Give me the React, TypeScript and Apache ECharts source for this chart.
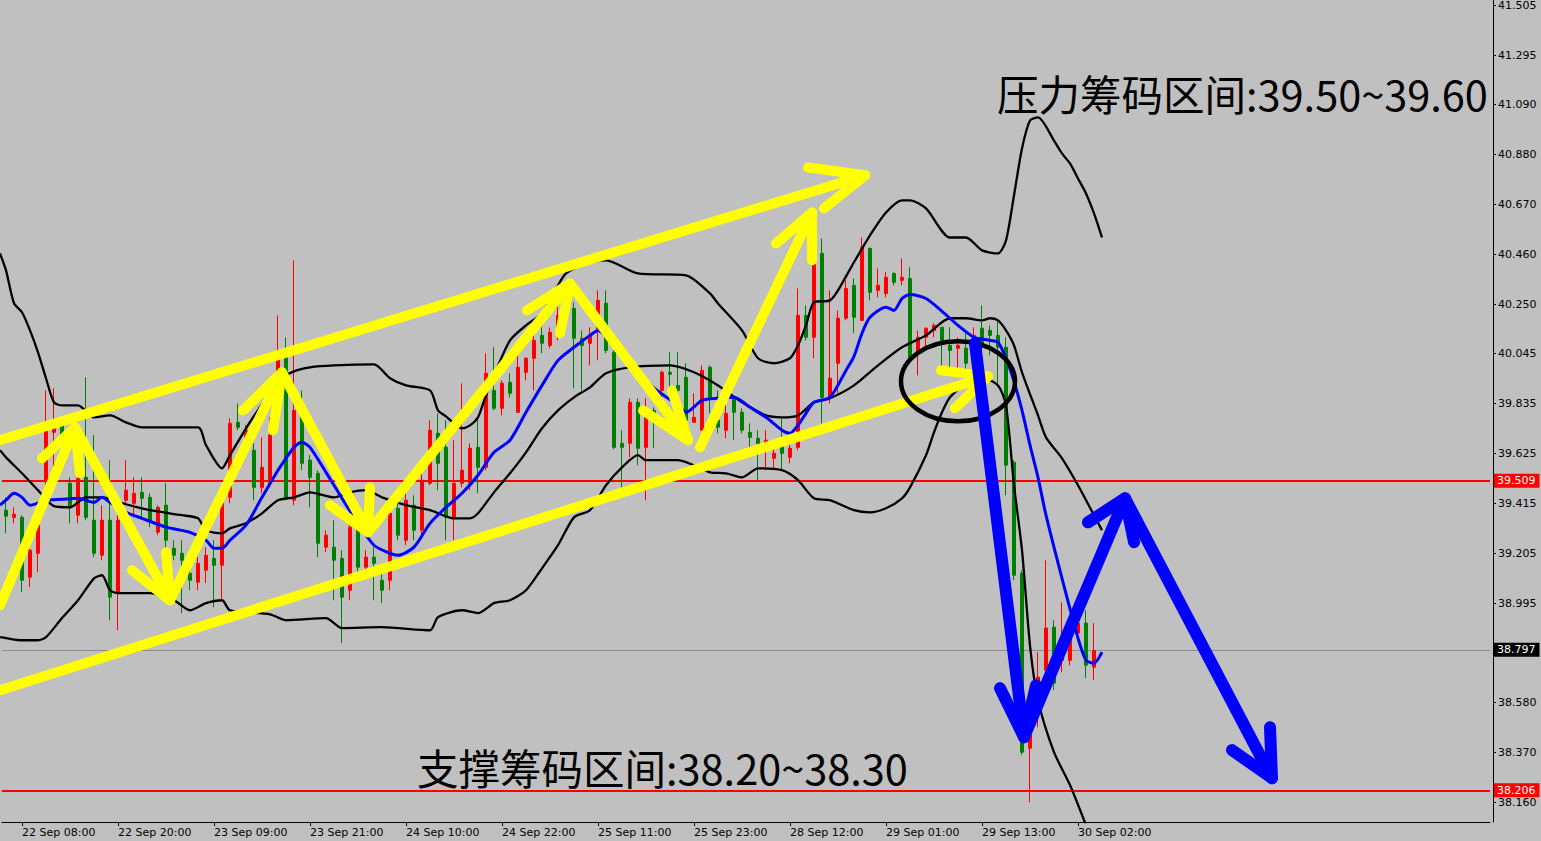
import React, { useEffect, useRef } from "react";
import * as echarts from "echarts";

// ---------- candles (bar index 0..136), prices ----------
const opens = [
  39.386, 39.356, 39.356, 39.105, 39.205, 39.512, 39.713, 39.742, 39.499, 39.365,
  39.524, 39.344, 39.197, 39.344, 39.038, 39.428, 39.415, 39.461, 39.440, 39.294,
  39.407, 39.226, 39.205, 39.121, 39.084, 39.134, 39.184, 39.155, 39.440, 39.755,
  39.638, 39.638, 39.482, 39.499, 39.847, 40.028, 39.428, 39.805, 39.596, 39.541,
  39.231, 39.231, 39.184, 39.050, 39.310, 39.147, 39.189, 39.092, 39.092, 39.394,
  39.260, 39.407, 39.302, 39.499, 39.709, 39.650, 39.356, 39.499, 39.499, 39.650,
  39.566, 39.889, 39.814, 39.923, 39.797, 39.965, 40.024, 40.120, 40.078, 40.120,
  40.192, 40.233, 40.108, 40.087, 40.141, 40.255, 40.049, 39.667, 39.667, 39.839,
  39.650, 39.805, 39.889, 39.965, 39.910, 39.944, 39.755, 39.722, 39.986, 39.764,
  39.722, 39.860, 39.797, 39.713, 39.688, 39.650, 39.604, 39.667, 39.608, 39.650,
  40.204, 40.112, 40.464, 39.860, 40.003, 40.192, 40.330, 40.183, 40.485, 40.309,
  40.296, 40.380, 40.351, 40.359, 40.049, 40.112, 40.141, 40.154, 40.078, 40.066,
  40.066, 40.087, 40.150, 40.141, 40.120, 40.070, 39.587, 39.121, 38.387, 38.660,
  38.714, 38.895, 38.756, 38.756, 38.870, 38.912, 38.727,
];
const closes = [
  39.361, 39.369, 39.092, 39.218, 39.323, 39.722, 39.742, 39.692, 39.398, 39.520,
  39.356, 39.205, 39.344, 39.021, 39.344, 39.470, 39.457, 39.436, 39.344, 39.398,
  39.260, 39.197, 39.176, 39.092, 39.163, 39.197, 39.155, 39.415, 39.751, 39.734,
  39.722, 39.482, 39.566, 39.701, 40.024, 39.440, 39.805, 39.583, 39.524, 39.247,
  39.281, 39.176, 39.021, 39.315, 39.147, 39.189, 39.163, 39.050, 39.373, 39.281,
  39.428, 39.302, 39.512, 39.722, 39.583, 39.356, 39.499, 39.554, 39.646, 39.566,
  39.961, 39.814, 39.919, 39.877, 39.986, 40.024, 40.099, 40.087, 40.133, 40.204,
  40.267, 40.108, 40.078, 40.120, 40.267, 40.057, 39.650, 39.650, 39.839, 39.646,
  39.797, 39.784, 39.965, 39.957, 39.889, 39.764, 39.776, 39.973, 39.860, 39.734,
  39.793, 39.797, 39.722, 39.692, 39.667, 39.680, 39.625, 39.625, 39.646, 40.204,
  40.112, 40.456, 39.860, 39.940, 40.192, 40.317, 40.196, 40.489, 40.301, 40.330,
  40.364, 40.343, 40.364, 40.015, 40.112, 40.150, 40.162, 40.099, 40.057, 40.078,
  40.003, 40.120, 40.078, 40.120, 40.070, 39.575, 39.113, 38.370, 38.442, 38.685,
  38.891, 38.660, 38.840, 38.882, 38.912, 38.735, 38.797,
];
const lows = [
  39.289, 39.331, 39.042, 39.063, 39.126, 39.491, 39.512, 39.659, 39.331, 39.331,
  39.344, 39.189, 39.176, 38.924, 38.882, 39.407, 39.356, 39.356, 39.315, 39.281,
  39.176, 39.176, 38.954, 39.050, 39.050, 39.080, 38.979, 39.008, 39.415, 39.722,
  39.617, 39.428, 39.457, 39.482, 39.826, 39.428, 39.407, 39.554, 39.398, 39.189,
  39.210, 39.008, 38.828, 39.008, 39.113, 39.113, 39.008, 38.996, 39.050, 39.260,
  39.239, 39.260, 39.281, 39.491, 39.470, 39.260, 39.260, 39.482, 39.470, 39.457,
  39.554, 39.805, 39.784, 39.860, 39.793, 39.931, 39.889, 40.045, 40.066, 40.099,
  40.175, 39.898, 39.889, 39.994, 40.015, 40.045, 39.642, 39.482, 39.608, 39.575,
  39.428, 39.646, 39.793, 39.889, 39.793, 39.722, 39.755, 39.722, 39.793, 39.709,
  39.688, 39.680, 39.709, 39.650, 39.512, 39.554, 39.554, 39.554, 39.583, 39.638,
  40.099, 40.024, 39.751, 39.835, 39.877, 40.183, 40.129, 40.183, 40.267, 40.280,
  40.280, 40.330, 40.330, 40.007, 39.952, 40.070, 40.112, 39.986, 39.986, 39.973,
  39.973, 40.070, 40.057, 40.036, 39.902, 39.449, 39.092, 38.358, 38.160, 38.475,
  38.706, 38.630, 38.706, 38.735, 38.840, 38.681, 38.672,
];
const highs = [
  39.440, 39.398, 39.365, 39.226, 39.331, 39.889, 39.898, 39.772, 39.524, 39.554,
  39.944, 39.701, 39.407, 39.596, 39.365, 39.596, 39.524, 39.524, 39.457, 39.407,
  39.499, 39.260, 39.260, 39.147, 39.189, 39.231, 39.260, 39.436, 39.772, 39.835,
  39.742, 39.667, 39.692, 39.776, 40.204, 40.112, 40.435, 39.889, 39.617, 39.554,
  39.302, 39.344, 39.218, 39.344, 39.344, 39.218, 39.231, 39.134, 39.407, 39.415,
  39.470, 39.449, 39.554, 39.764, 39.793, 39.764, 39.680, 39.919, 39.667, 39.776,
  40.045, 40.070, 39.931, 39.961, 40.057, 40.028, 40.141, 40.154, 40.154, 40.246,
  40.309, 40.259, 40.141, 40.154, 40.309, 40.309, 40.057, 39.722, 39.856, 39.856,
  39.856, 39.818, 39.973, 40.049, 40.049, 40.003, 39.877, 39.994, 39.994, 39.889,
  39.835, 39.868, 39.814, 39.751, 39.722, 39.722, 39.659, 39.776, 39.680, 40.317,
  40.246, 40.485, 40.527, 40.309, 40.225, 40.351, 40.359, 40.531, 40.489, 40.401,
  40.385, 40.385, 40.443, 40.406, 40.141, 40.154, 40.171, 40.154, 40.154, 40.112,
  40.129, 40.154, 40.246, 40.162, 40.183, 40.112, 39.596, 39.134, 38.484, 38.790,
  39.176, 38.924, 38.999, 38.903, 38.966, 38.966, 38.912,
];

// ---------- indicator lines: [bar index, price] ----------
const upperBand = [
  [-0.75, 40.464], [0, 40.393], [1, 40.255], [2, 40.217], [3, 40.141], [4, 40.049], [5, 39.940], [6, 39.839],
  [7, 39.826], [9, 39.826], [11, 39.776], [13, 39.784], [15, 39.755], [17, 39.734], [24, 39.734], [25, 39.659],
  [27, 39.562], [28, 39.617], [30, 39.730], [32, 39.831], [34, 39.931], [36, 39.969], [38, 39.986], [41, 39.994],
  [46, 39.998], [48, 39.940], [50, 39.910], [53, 39.889], [54, 39.805], [55, 39.780], [57, 39.730], [58, 39.742],
  [59, 39.776], [60, 39.868], [61, 39.952], [63, 40.099], [65, 40.162], [67, 40.213], [69, 40.330], [70, 40.380],
  [72, 40.414], [75, 40.435], [79, 40.380], [85, 40.372], [88, 40.296], [89, 40.254], [92, 40.141], [94, 40.024],
  [96, 40.003], [98, 40.024], [99, 40.078], [100, 40.162], [101, 40.259], [103, 40.267], [104, 40.309], [106, 40.427],
  [108, 40.540], [110, 40.636], [112, 40.687], [113, 40.687], [115, 40.653], [118, 40.531], [120, 40.531], [122, 40.477],
  [124, 40.464], [125, 40.519], [126, 40.708], [127, 40.905], [128, 41.022], [129, 41.035], [131, 40.938], [132, 40.884],
  [133, 40.842], [134, 40.779], [135, 40.716], [136, 40.632], [137, 40.531],
];
const middleBand = [
  [-0.75, 39.638], [0, 39.608], [2, 39.541], [4, 39.470], [6, 39.403], [8, 39.398], [10, 39.440], [12, 39.440],
  [15, 39.411], [18, 39.386], [22, 39.365], [24, 39.352], [25, 39.302], [27, 39.289], [28, 39.310], [30, 39.331],
  [32, 39.373], [34, 39.428], [36, 39.440], [38, 39.461], [41, 39.440], [43, 39.461], [45, 39.470], [47, 39.440],
  [50, 39.407], [53, 39.386], [56, 39.352], [58, 39.352], [59, 39.373], [61, 39.461], [63, 39.541], [65, 39.629],
  [67, 39.730], [69, 39.805], [71, 39.860], [73, 39.902], [75, 39.961], [78, 39.986], [83, 39.994], [86, 39.965],
  [89, 39.910], [92, 39.839], [95, 39.784], [97, 39.776], [99, 39.784], [101, 39.839], [103, 39.856], [106, 39.910],
  [109, 39.994], [112, 40.070], [115, 40.120], [118, 40.192], [120, 40.192], [122, 40.183], [123, 40.192], [124, 40.183],
  [125, 40.141], [126, 40.078], [127, 39.965], [129, 39.784], [130, 39.692], [132, 39.604], [134, 39.491], [136, 39.365],
  [137, 39.302],
];
const lowerBand = [
  [-0.75, 38.853], [0, 38.849], [2, 38.840], [4, 38.840], [5, 38.853], [7, 38.933], [9, 39.008], [11, 39.100],
  [12, 39.113], [13, 39.050], [14, 39.038], [18, 39.038], [21, 39.008], [23, 38.966], [25, 38.996], [27, 39.008],
  [28, 38.966], [33, 38.949], [35, 38.924], [40, 38.933], [42, 38.891], [47, 38.895], [53, 38.882], [54, 38.937],
  [57, 38.966], [59, 38.954], [61, 38.996], [63, 39.008], [65, 39.050], [67, 39.142], [69, 39.239], [71, 39.356],
  [73, 39.386], [75, 39.491], [77, 39.566], [79, 39.617], [80, 39.596], [84, 39.596], [88, 39.545], [90, 39.541],
  [92, 39.524], [94, 39.562], [97, 39.554], [99, 39.512], [101, 39.436], [103, 39.428], [106, 39.386], [108, 39.377],
  [110, 39.394], [112, 39.436], [113, 39.482], [115, 39.617], [116, 39.713], [117, 39.797], [118, 39.860], [120, 39.919],
  [122, 39.944], [124, 39.910], [125, 39.826], [126, 39.491], [127, 39.218], [128, 38.819], [129, 38.588], [131, 38.370],
  [133, 38.232], [135, 38.064], [136, 37.980], [137, 37.896],
];
const maLine = [
  [-0.75, 39.407], [0, 39.428], [1, 39.457], [2, 39.440], [3, 39.407], [5, 39.428], [7, 39.432], [9, 39.436],
  [11, 39.419], [12, 39.440], [13, 39.419], [15, 39.377], [17, 39.352], [20, 39.315], [23, 39.293], [25, 39.260],
  [26, 39.226], [27, 39.226], [28, 39.260], [30, 39.323], [32, 39.440], [34, 39.554], [35, 39.604], [36, 39.650],
  [37, 39.671], [38, 39.650], [40, 39.545], [42, 39.436], [44, 39.331], [46, 39.239], [48, 39.205], [49, 39.197],
  [51, 39.231], [53, 39.331], [55, 39.398], [57, 39.457], [59, 39.533], [61, 39.629], [63, 39.680], [65, 39.797],
  [67, 39.910], [69, 40.015], [71, 40.070], [73, 40.120], [74, 40.141], [76, 40.078], [78, 39.994], [80, 39.931],
  [81, 39.898], [84, 39.826], [85, 39.797], [87, 39.847], [89, 39.856], [91, 39.860], [93, 39.818], [95, 39.776],
  [97, 39.722], [98, 39.709], [99, 39.743], [100, 39.793], [101, 39.839], [103, 39.860], [105, 39.973], [106, 40.032],
  [107, 40.129], [108, 40.196], [110, 40.238], [111, 40.225], [112, 40.275], [113, 40.292], [115, 40.275], [117, 40.221],
  [119, 40.162], [121, 40.112], [123, 40.099], [124, 40.091], [125, 40.024], [126, 39.927], [127, 39.805], [128, 39.659],
  [129, 39.524], [130, 39.365], [132, 39.100], [134, 38.849], [135, 38.756], [136, 38.744], [137, 38.790],
];

// ---------- hand-drawn annotations in [bar index, price] ----------
const channelTop = [[-0.75, 39.680], [107.4, 40.792]];
const channelTopHead = [[100.25, 40.825], [107.4, 40.792], [102.25, 40.653]];
const channelBottom = [[-0.75, 38.630], [122.75, 39.948]];
const channelBottomHead = [[116.875, 39.973], [122.75, 39.948], [118.625, 39.814]];
const zigzag = [
  [-0.75, 38.987], [8.625, 39.734], [20.5, 39.008], [34.5, 39.965],
  [45.25, 39.294], [70.5, 40.338], [85.25, 39.680],
];
const zigzagHeads = [
  [[4.5, 39.604], [8.625, 39.734], [9.25, 39.541]],
  [[15.75, 39.134], [20.5, 39.008], [20, 39.210]],
  [[29.625, 39.805], [34.5, 39.965], [33.375, 39.722]],
  [[40.5, 39.407], [45.25, 39.294], [45.5, 39.482]],
  [[65.125, 40.225], [70.5, 40.338], [69.25, 40.129]],
  [[79.625, 39.805], [85.25, 39.680], [83.25, 39.889]],
];
const lastRise = [[86.75, 39.650], [100.75, 40.636]];
const lastRiseHead = [[96.25, 40.506], [100.75, 40.636], [100.75, 40.435]];
const bluePath = [[121.125, 40.087], [127.25, 38.433], [139.875, 39.436], [158.25, 38.261]];
const blueHeads = [
  [[124.25, 38.639], [127.25, 38.433], [128.75, 38.651]],
  [[135.25, 39.335], [139.875, 39.436], [141, 39.252]],
  [[158, 38.475], [158.25, 38.261], [153.25, 38.379]],
];
const circleCenter = [119, 39.927];

// ---------- levels & labels ----------
const resistanceLevel = 39.509;
const supportLevel = 38.206;
const lastPrice = 38.797;
const yTicks = [41.505, 41.295, 41.09, 40.88, 40.67, 40.46, 40.25, 40.045, 39.835, 39.625, 39.415, 39.205, 38.995, 38.58, 38.37, 38.16];
const xLabelBars = [2, 14, 26, 38, 50, 62, 74, 86, 98, 110, 122, 134];
const xLabelTexts = [
  "22 Sep 08:00", "22 Sep 20:00", "23 Sep 09:00", "23 Sep 21:00", "24 Sep 10:00", "24 Sep 22:00",
  "25 Sep 11:00", "25 Sep 23:00", "28 Sep 12:00", "29 Sep 01:00", "29 Sep 13:00", "30 Sep 02:00",
];
const resistanceText = "压力筹码区间:39.50~39.60";
const supportText = "支撑筹码区间:38.20~38.30";

const SLOTS = 186;
const FONT = "DejaVu Sans";

function stroke(data: number[][], color: string, width: number, z: number) {
  return {
    type: "line",
    xAxisIndex: 1,
    yAxisIndex: 0,
    data,
    symbol: "none",
    clip: false,
    silent: true,
    z,
    lineStyle: { color, width, cap: "round", join: "round" },
  };
}

function band(data: number[][], color: string, width: number, z: number) {
  return {
    type: "line",
    xAxisIndex: 1,
    yAxisIndex: 0,
    data,
    symbol: "none",
    smooth: 0.25,
    silent: true,
    z,
    lineStyle: { color, width },
  };
}

function tagLine(value: number, lineColor: string, width: number, bg: string) {
  return {
    yAxis: value,
    lineStyle: { color: lineColor, width, type: "solid" },
    label: {
      show: true,
      position: "end",
      distance: 4,
      formatter: () => value.toFixed(3),
      backgroundColor: bg,
      color: "#ffffff",
      fontFamily: FONT,
      fontSize: 11,
      padding: [2, 4, 1, 3],
    },
  };
}

export default function App() {
  const ref = useRef<HTMLDivElement>(null);

  useEffect(() => {
    if (!ref.current) return;
    const chart = echarts.init(ref.current, null, { renderer: "svg" });
    const candleData = opens.map((o, i) => [o, closes[i], lows[i], highs[i]]);
    const categories = Array.from({ length: SLOTS }, (_, i) => String(i));
    const isLabelBar = (idx: number) => xLabelBars.indexOf(idx) >= 0;

    const series: any[] = [
      {
        type: "candlestick",
        xAxisIndex: 0,
        yAxisIndex: 0,
        data: candleData,
        barWidth: 4,
        z: 2,
        silent: true,
        itemStyle: {
          color: "#ff0000",
          color0: "#008000",
          borderColor: "#ff0000",
          borderColor0: "#008000",
          borderWidth: 1,
        },
        markLine: {
          symbol: ["none", "none"],
          silent: true,
          z: 1,
          data: [
            tagLine(lastPrice, "#8c8c8c", 1, "#000000"),
            tagLine(resistanceLevel, "#ff0000", 2, "#ff0000"),
            tagLine(supportLevel, "#ff0000", 2, "#ff0000"),
          ],
        },
      },
      band(upperBand, "#000000", 2.3, 3),
      band(middleBand, "#000000", 2.3, 3),
      band(lowerBand, "#000000", 2.3, 3),
      band(maLine, "#0000ff", 3, 4),
      stroke(channelTop, "#ffff00", 10, 5),
      stroke(channelTopHead, "#ffff00", 10, 5),
      stroke(channelBottom, "#ffff00", 10, 5),
      stroke(channelBottomHead, "#ffff00", 10, 5),
      stroke(zigzag, "#ffff00", 10, 5),
      ...zigzagHeads.map((h) => stroke(h, "#ffff00", 10, 5)),
      stroke(lastRise, "#ffff00", 10, 5),
      stroke(lastRiseHead, "#ffff00", 10, 5),
      stroke(bluePath, "#0000ff", 12, 7),
      ...blueHeads.map((h) => stroke(h, "#0000ff", 12, 7)),
    ];

    chart.setOption({
      animation: false,
      backgroundColor: "#c0c0c0",
      textStyle: { fontFamily: FONT },
      grid: { left: 2, top: 0, width: 1488, height: 822 },
      xAxis: [
        {
          type: "category",
          data: categories,
          boundaryGap: true,
          axisLine: { show: true, onZero: false, lineStyle: { color: "#000000", width: 1 } },
          axisTick: {
            show: true,
            alignWithLabel: true,
            length: 4,
            interval: (idx: number) => isLabelBar(idx),
            lineStyle: { color: "#000000" },
          },
          axisLabel: {
            show: true,
            interval: (idx: number) => isLabelBar(idx),
            formatter: (v: string) => {
              const k = xLabelBars.indexOf(Number(v));
              return k >= 0 ? xLabelTexts[k] : "";
            },
            align: "left",
            margin: 5,
            color: "#000000",
            fontFamily: FONT,
            fontSize: 11,
          },
          splitLine: { show: false },
        },
        {
          type: "value",
          min: -0.5,
          max: SLOTS - 0.5,
          show: false,
          axisLine: { show: false, onZero: false },
          splitLine: { show: false },
        },
      ],
      yAxis: [
        {
          type: "value",
          min: 38.077,
          max: 41.526,
          position: "right",
          offset: 3,
          axisLine: { show: true, onZero: false, lineStyle: { color: "#000000", width: 1 } },
          axisTick: { show: true, length: 3, customValues: yTicks, lineStyle: { color: "#000000" } },
          axisLabel: {
            show: true,
            customValues: yTicks,
            formatter: (v: number) => v.toFixed(3),
            margin: 5,
            color: "#000000",
            fontFamily: FONT,
            fontSize: 11,
          },
          splitLine: { show: false },
        },
      ],
      series,
    });

    const c = chart.convertToPixel({ seriesIndex: 1 }, circleCenter) as number[];
    chart.setOption({
      graphic: {
        elements: [
          {
            type: "ellipse",
            shape: { cx: c[0], cy: c[1], rx: 57, ry: 40 },
            style: { fill: "none", stroke: "#000000", lineWidth: 4.5 },
            z: 6,
            silent: true,
          },
          {
            type: "text",
            x: 997,
            y: 93,
            z: 8,
            silent: true,
            style: {
              text: resistanceText,
              fill: "#000000",
              font: '41.5px "Noto Sans CJK SC"',
              align: "left",
              textAlign: "left",
              verticalAlign: "middle",
              textVerticalAlign: "middle",
            },
          },
          {
            type: "text",
            x: 417,
            y: 767,
            z: 8,
            silent: true,
            style: {
              text: supportText,
              fill: "#000000",
              font: '41.5px "Noto Sans CJK SC"',
              align: "left",
              textAlign: "left",
              verticalAlign: "middle",
              textVerticalAlign: "middle",
            },
          },
        ],
      },
    });

    return () => chart.dispose();
  }, []);

  return (
    <div
      ref={ref}
      style={{ position: "absolute", left: 0, top: 0, width: 1541, height: 841, background: "#c0c0c0" }}
    />
  );
}
